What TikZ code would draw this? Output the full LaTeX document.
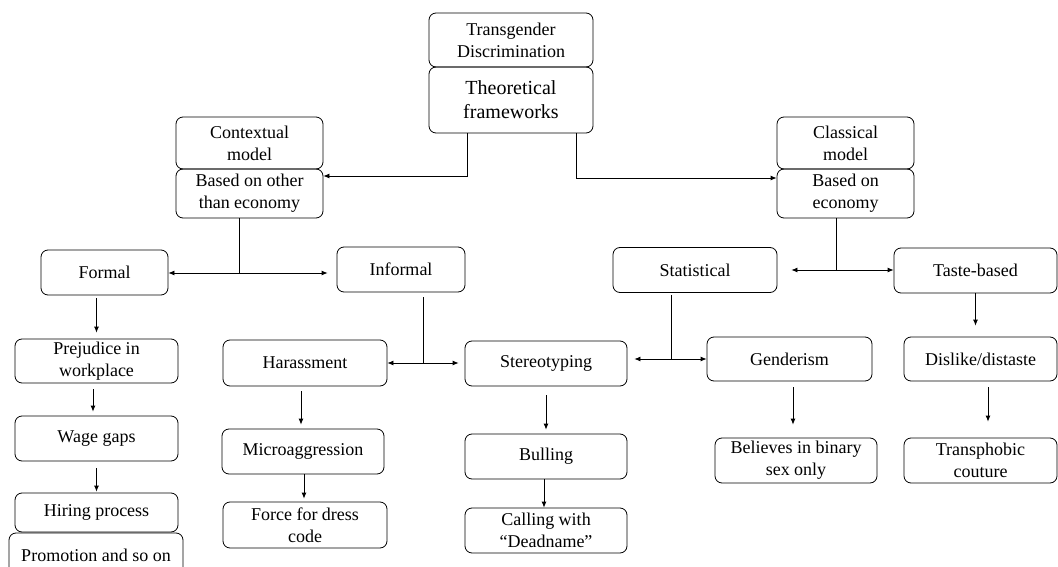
\documentclass[tikz,border=0pt]{standalone}
\usepackage{fontspec}
\setmainfont{Liberation Serif}
\usetikzlibrary{arrows.meta}

\begin{document}
\begin{tikzpicture}[x=1pt, y=-1pt, line width=0.8pt,
  box/.style={draw, rounded corners=7pt, align=center, inner sep=0pt,
    font=\fontsize{18}{22}\selectfont},
  arr/.style={-{Latex[length=6pt,width=5pt]}}]
\useasboundingbox (0,0) rectangle (1058,567);
\clip (0,0) rectangle (1058,567);
% top
\node[box, minimum width=164pt, minimum height=54pt] (tdisc) at (511,40) {Transgender\\Discrimination};
\node[box, minimum width=164pt, minimum height=66pt, font=\fontsize{20}{24}\selectfont] (theo) at (511,100) {Theoretical\\frameworks};
\node[box, minimum width=147pt, minimum height=52pt] (ctx) at (249.5,143) {Contextual\\model};
\node[box, minimum width=147pt, minimum height=49pt] (ctxb) at (249.5,193.5) {Based on other\\than economy};
\node[box, minimum width=137pt, minimum height=52pt] (cls) at (845.5,143) {Classical\\model};
\node[box, minimum width=137pt, minimum height=49pt] (clsb) at (845.5,193.5) {Based on\\economy};
% second level
\node[box, minimum width=127pt, minimum height=45pt] (formal) at (104.5,272.5) {Formal};
\node[box, minimum width=128pt, minimum height=45pt] (informal) at (401,269.5) {Informal};
\node[box, minimum width=164pt, minimum height=45pt] (stat) at (695,270) {Statistical};
\node[box, minimum width=163pt, minimum height=45pt] (taste) at (975.5,270.5) {Taste-based};
% formal column
\node[box, minimum width=163pt, minimum height=44pt] (prej) at (96.5,361) {Prejudice in\\workplace};
\node[box, minimum width=163pt, minimum height=45pt] (wage) at (96.5,438.5) {Wage gaps};
\node[box, minimum width=163pt, minimum height=39pt] (hiring) at (96.5,512.5) {Hiring process};
\node[box, minimum width=174pt, minimum height=44pt] (promo) at (96,555) {Promotion and so on};
% informal columns
\node[box, minimum width=164pt, minimum height=46pt] (harass) at (305,363) {Harassment};
\node[box, minimum width=162pt, minimum height=45pt] (micro) at (303,451.5) {Microaggression};
\node[box, minimum width=164pt, minimum height=46pt] (dress) at (305,525) {Force for dress\\code};
\node[box, minimum width=162pt, minimum height=45pt] (stereo) at (546,363.5) {Stereotyping};
\node[box, minimum width=162pt, minimum height=45pt] (bull) at (546,456.5) {Bulling};
\node[box, minimum width=162pt, minimum height=45pt] (call) at (546,530.5) {Calling with\\``Deadname''};
% classical columns
\node[box, minimum width=165pt, minimum height=44pt] (gender) at (789.5,359) {Genderism};
\node[box, minimum width=162pt, minimum height=45pt] (believes) at (796,460.5) {Believes in binary\\sex only};
\node[box, minimum width=153pt, minimum height=44pt] (dislike) at (980.5,359) {Dislike/distaste};
\node[box, minimum width=153pt, minimum height=45pt] (transph) at (980.5,460.5) {Transphobic\\couture};

% junctions
\coordinate (ctxj) at (239.5,273);
\coordinate (clsj) at (836,270);
\coordinate (infj) at (423,363);
\coordinate (statj) at (671,359);

\draw[arr] ([xshift=-44pt]theo.south) |- ([yshift=17.5pt]ctxb.east);
\draw[arr] ([xshift=65pt]theo.south) |- ([yshift=15.5pt]clsb.west);

\draw (ctxb.south -| ctxj) -- (ctxj);
\draw[arr] (ctxj) -- (ctxj -| formal.east);
\draw[arr, shorten >=9pt] (ctxj) -- (ctxj -| informal.west);

\draw (clsb.south -| clsj) -- (clsj);
\draw[arr, shorten >=14pt] (clsj) -- (clsj -| stat.east);
\draw[arr] (clsj) -- (clsj -| taste.west);

\draw[shorten <=5pt] (informal.south -| infj) -- (infj);
\draw[arr] (infj) -- (infj -| harass.east);
\draw[arr, shorten >=6pt] (infj) -- (infj -| stereo.west);

\draw[shorten <=2pt] (stat.south -| statj) -- (statj);
\draw[arr, shorten >=7pt] (statj) -- (statj -| stereo.east);
\draw[arr] (statj) -- (statj -| gender.west);

\draw[arr, shorten <=3pt, shorten >=6pt] (formal.south -| prej.north) -- (prej.north);
\draw[arr, shorten <=6pt, shorten >=4pt] ([xshift=-3.5pt]prej.south) -- ([xshift=-3.5pt]wage.north);
\draw[arr, shorten <=7pt, shorten >=1pt] (wage.south) -- (hiring.north);
\draw[arr, shorten <=5pt, shorten >=4pt] ([xshift=-4pt]harass.south) -- ([xshift=-2pt]micro.north);
\draw[arr, shorten >=3pt] ([xshift=1pt]micro.south) -- ([xshift=-1pt]dress.north);
\draw[arr, shorten <=9pt, shorten >=4pt] (stereo.south) -- (bull.north);
\draw[arr] ([xshift=-2pt]bull.south) -- ([xshift=-2pt]call.north);
\draw[arr, shorten >=11pt] (taste.south) -- (taste.south |- dislike.north);
\draw[arr, shorten <=6pt, shorten >=13pt] ([xshift=3.5pt]gender.south) -- ([xshift=-3pt]believes.north);
\draw[arr, shorten <=6pt, shorten >=16pt] ([xshift=7.5pt]dislike.south) -- ([xshift=7.5pt]transph.north);
\end{tikzpicture}
\end{document}
